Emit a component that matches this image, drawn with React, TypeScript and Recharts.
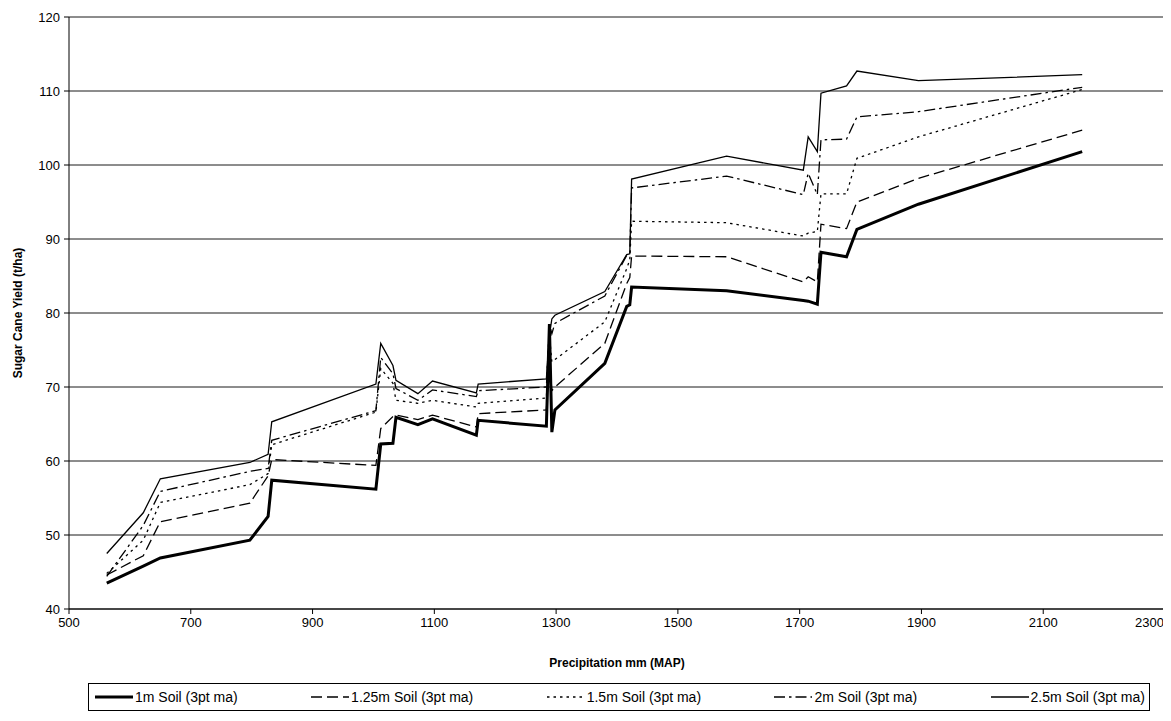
import React from 'react';
import { LineChart, Line, XAxis, YAxis, CartesianGrid } from 'recharts';

// precipitation (mm MAP) – shared x positions for all five soil series
const precipitation = [562, 622, 650, 797, 827, 833, 1004, 1012, 1032, 1037, 1073, 1097, 1169, 1172, 1284, 1289, 1293, 1298, 1380, 1416, 1421, 1424, 1580, 1706, 1714, 1729, 1735, 1777, 1794, 1895, 2164];

const soil1m = [43.5, 45.8, 46.9, 49.3, 52.5, 57.4, 56.2, 62.3, 62.4, 65.9, 64.9, 65.7, 63.5, 65.5, 64.7, 78.5, 63.9, 66.9, 73.2, 80.9, 81.1, 83.5, 83.0, 81.7, 81.6, 81.2, 88.2, 87.6, 91.3, 94.7, 101.8];
const soil125m = [44.6, 47.2, 51.8, 54.3, 58.0, 60.2, 59.4, 64.4, 66.0, 66.2, 65.6, 66.2, 64.6, 66.4, 66.9, 74.0, 69.5, 70.0, 75.9, 84.0, 84.8, 87.7, 87.6, 84.2, 84.9, 84.2, 92.0, 91.4, 95.0, 98.2, 104.7];
const soil15m = [44.8, 49.3, 54.4, 56.8, 58.3, 62.2, 66.6, 72.5, 70.5, 68.2, 67.8, 68.2, 67.3, 67.8, 68.5, 77.0, 73.4, 73.7, 78.8, 86.0, 87.2, 92.4, 92.2, 90.4, 90.8, 91.0, 96.1, 96.1, 100.9, 103.8, 110.2];
const soil2m = [44.4, 51.3, 55.9, 58.6, 59.0, 62.8, 66.8, 74.0, 71.8, 69.8, 68.2, 69.6, 68.7, 69.5, 70.0, 78.5, 77.2, 78.6, 82.3, 87.8, 88.0, 96.9, 98.5, 96.0, 98.9, 96.0, 103.4, 103.5, 106.5, 107.2, 110.5];
const soil25m = [47.5, 53.0, 57.6, 59.8, 60.9, 65.3, 70.4, 75.9, 72.9, 70.9, 69.1, 70.8, 69.2, 70.4, 71.1, 77.0, 79.2, 79.7, 82.9, 87.9, 88.0, 98.1, 101.2, 99.3, 103.8, 101.8, 109.7, 110.7, 112.7, 111.4, 112.2];

const xTicks = [500, 700, 900, 1100, 1300, 1500, 1700, 1900, 2100, 2300];
const yTicks = [40, 50, 60, 70, 80, 90, 100, 110, 120];

const seriesNames = ['1m Soil (3pt ma)', '1.25m Soil (3pt ma)', '1.5m Soil (3pt ma)', '2m Soil (3pt ma)', '2.5m Soil (3pt ma)'];

const data = precipitation.map((p, i) => ({
  p,
  s1: soil1m[i],
  s125: soil125m[i],
  s15: soil15m[i],
  s2: soil2m[i],
  s25: soil25m[i],
}));

const styles = [
  { key: 's1', width: 3, dash: undefined },
  { key: 's125', width: 1.3, dash: '11 5' },
  { key: 's15', width: 1.3, dash: '2.5 4' },
  { key: 's2', width: 1.3, dash: '11 4 2.5 4' },
  { key: 's25', width: 1.3, dash: undefined },
];

const font = 'Arial, "Liberation Sans", sans-serif';

// last label sits flush with the axis end, like the original
const XTick = (props: any) => {
  const { x, y, payload } = props;
  const last = payload.value === xTicks[xTicks.length - 1];
  return (
    <text x={last ? x - 1 : x} y={y} dy="0.71em" textAnchor={last ? 'end' : 'middle'} fontSize={13} fill="#000" fontFamily={font}>
      {payload.value}
    </text>
  );
};

const App: React.FC = () => {
  return (
    <div style={{ position: 'relative', width: 1163, height: 713, fontFamily: font }}>
      <LineChart width={1163} height={713} data={data} margin={{ top: 9, right: 6, bottom: 52, left: 0 }}>
        <CartesianGrid vertical={false} stroke="#1a1a1a" strokeWidth={1} />
        <XAxis
          dataKey="p"
          type="number"
          domain={[500, 2300]}
          ticks={xTicks}
          interval={0}
          stroke="#000"
          tickSize={5}
          tickMargin={4}
          height={60}
          tick={<XTick />}
          label={{ value: 'Precipitation mm (MAP)', position: 'insideBottom', offset: 2, fill: '#000', fontSize: 12, fontWeight: 'bold', fontFamily: font }}
        />
        <YAxis
          type="number"
          domain={[40, 120]}
          ticks={yTicks}
          interval={0}
          stroke="#000"
          tickSize={5}
          tickMargin={4}
          width={61}
          tick={{ fill: '#000', fontSize: 13, fontFamily: font }}
          label={{ value: 'Sugar Cane Yield (t/ha)', angle: -90, position: 'insideLeft', offset: 10, style: { textAnchor: 'middle' }, fill: '#000', fontSize: 12, fontWeight: 'bold', fontFamily: font }}
        />
        {styles.map((s) => (
          <Line
            key={s.key}
            dataKey={s.key}
            type="linear"
            stroke="#000"
            strokeWidth={s.width}
            strokeDasharray={s.dash}
            dot={false}
            activeDot={false}
            isAnimationActive={false}
          />
        ))}
      </LineChart>
      <div
        style={{
          position: 'absolute',
          left: 80,
          top: 675,
          width: 1062,
          height: 28,
          border: '1px solid #000',
          display: 'flex',
          alignItems: 'center',
          justifyContent: 'space-between',
          padding: '0 4px 0 6px',
          boxSizing: 'border-box',
          fontSize: 14,
          color: '#000',
        }}
      >
        {seriesNames.map((name, i) => (
          <div key={name} style={{ display: 'flex', alignItems: 'center' }}>
            <svg width={38} height={10} style={{ marginRight: 2 }}>
              <line x1={0} y1={5} x2={38} y2={5} stroke="#000" strokeWidth={styles[i].width} strokeDasharray={styles[i].dash} />
            </svg>
            <span>{name}</span>
          </div>
        ))}
      </div>
    </div>
  );
};

export default App;
